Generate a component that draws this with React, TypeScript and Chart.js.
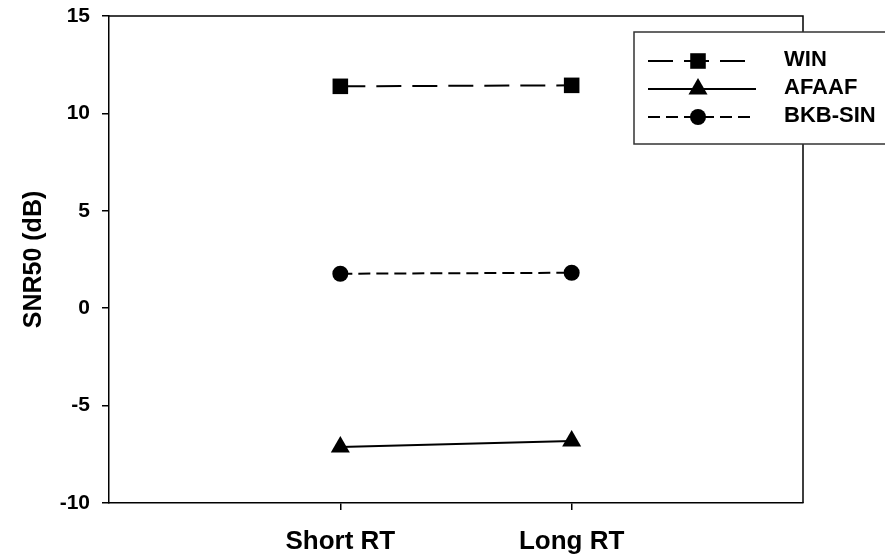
import React, { useEffect, useRef } from "react";
import { Chart, registerables } from "chart.js";

Chart.register(...registerables);

const categories = ["Short RT", "Long RT"];
const seriesNames = ["WIN", "AFAAF", "BKB-SIN"];
const winValues = [11.39, 11.44];
const afaafValues = [-7.13, -6.82];
const bkbValues = [1.77, 1.82];
const yTicks = [-10, -5, 0, 5, 10, 15];

const FONT = '"Liberation Sans", Arial, sans-serif';

const toPoints = (vals: number[]) => vals.map((v, i) => ({ x: i + 1, y: v }));

const styles = [
  { dash: [25, 11], point: "rect", radius: 11 },
  { dash: [], point: "triangle", radius: 11 },
  { dash: [12, 6], point: "circle", radius: 8 },
];

function drawMarker(ctx: CanvasRenderingContext2D, style: string, r: number, x: number, y: number) {
  ctx.beginPath();
  if (style === "rect") {
    const s = Math.SQRT1_2 * r;
    ctx.rect(x - s, y - s, 2 * s, 2 * s);
  } else if (style === "triangle") {
    ctx.moveTo(x, y - r);
    ctx.lineTo(x + r * Math.sin(Math.PI / 3), y + r * 0.5);
    ctx.lineTo(x - r * Math.sin(Math.PI / 3), y + r * 0.5);
    ctx.closePath();
  } else {
    ctx.arc(x, y, r, 0, Math.PI * 2);
  }
  ctx.fill();
}

const framePlugin = {
  id: "frameAndLegend",
  afterDraw(chart: any) {
    const { ctx, chartArea } = chart;
    ctx.save();
    ctx.strokeStyle = "#000";
    ctx.lineWidth = 1.5;
    ctx.beginPath();
    ctx.moveTo(chartArea.left, chartArea.top);
    ctx.lineTo(chartArea.right, chartArea.top);
    ctx.lineTo(chartArea.right, chartArea.bottom);
    ctx.stroke();

    // legend box
    const bx = 634, by = 32, bw = 260, bh = 112;
    ctx.fillStyle = "#fff";
    ctx.fillRect(bx, by, bw, bh);
    ctx.strokeStyle = "#333";
    ctx.lineWidth = 1.5;
    ctx.strokeRect(bx, by, bw, bh);

    const rowsY = [61, 89, 117];
    seriesNames.forEach((name, i) => {
      const y = rowsY[i];
      const st = styles[i];
      ctx.strokeStyle = "#000";
      ctx.lineWidth = 2;
      ctx.setLineDash(st.dash);
      ctx.beginPath();
      ctx.moveTo(648, y);
      ctx.lineTo(756, y);
      ctx.stroke();
      ctx.setLineDash([]);
      ctx.fillStyle = "#000";
      drawMarker(ctx, st.point, st.radius, 698, y);
      ctx.font = `bold 22px ${FONT}`;
      ctx.textAlign = "left";
      ctx.textBaseline = "middle";
      ctx.fillText(name, 784, y - 1);
    });
    ctx.restore();
  },
};

export default function App() {
  const ref = useRef<HTMLCanvasElement | null>(null);

  useEffect(() => {
    if (!ref.current) return;
    const allValues = [winValues, afaafValues, bkbValues];
    const chart = new Chart(ref.current, {
      type: "line",
      data: {
        datasets: allValues.map((vals, i) => ({
          label: seriesNames[i],
          data: toPoints(vals),
          borderColor: "#000",
          backgroundColor: "#000",
          borderWidth: 2,
          borderDash: styles[i].dash,
          pointStyle: styles[i].point as any,
          pointRadius: styles[i].radius,
          pointBackgroundColor: "#000",
          pointBorderColor: "#000",
          pointBorderWidth: 0,
          fill: false,
          tension: 0,
        })),
      },
      options: {
        responsive: false,
        animation: false,
        layout: { padding: { left: 0, top: 16, right: 82, bottom: 0 } },
        plugins: {
          legend: { display: false },
          tooltip: { enabled: false },
        },
        scales: {
          x: {
            type: "linear",
            min: 0,
            max: 3,
            afterBuildTicks: (scale: any) => {
              scale.ticks = categories.map((_, i) => ({ value: i + 1 }));
            },
            afterFit: (scale: any) => {
              scale.height = 53;
              scale.paddingLeft = 0;
              scale.paddingRight = 0;
            },
            ticks: {
              callback: (v: any) => categories[Math.round(v) - 1] ?? "",
              font: { family: FONT, size: 26, weight: "bold" },
              color: "#000",
              padding: 16,
              maxRotation: 0,
              autoSkip: false,
            },
            grid: {
              display: true,
              drawOnChartArea: false,
              drawTicks: true,
              tickLength: 7,
              color: "#000",
              lineWidth: 1.5,
            },
            border: { display: true, color: "#000", width: 1.5 },
          },
          y: {
            type: "linear",
            min: yTicks[0],
            max: yTicks[yTicks.length - 1],
            afterBuildTicks: (scale: any) => {
              scale.ticks = yTicks.map((v) => ({ value: v }));
            },
            afterFit: (scale: any) => {
              scale.width = 109;
              scale.paddingTop = 0;
              scale.paddingBottom = 0;
            },
            ticks: {
              font: { family: FONT, size: 21, weight: "bold" },
              color: "#000",
              padding: 12,
            },
            grid: {
              display: true,
              drawOnChartArea: false,
              drawTicks: true,
              tickLength: 7,
              color: "#000",
              lineWidth: 1.5,
            },
            border: { display: true, color: "#000", width: 1.5 },
            title: {
              display: true,
              text: "SNR50 (dB)",
              color: "#000",
              font: { family: FONT, size: 25, weight: "bold" },
              padding: { top: 19, bottom: 0 },
            },
          },
        },
      },
      plugins: [framePlugin],
    });
    return () => chart.destroy();
  }, []);

  return (
    <div style={{ position: "fixed", left: 0, top: 0, width: 885, height: 556, background: "#fff" }}>
      <canvas ref={ref} width={885} height={556} style={{ display: "block" }} />
    </div>
  );
}
